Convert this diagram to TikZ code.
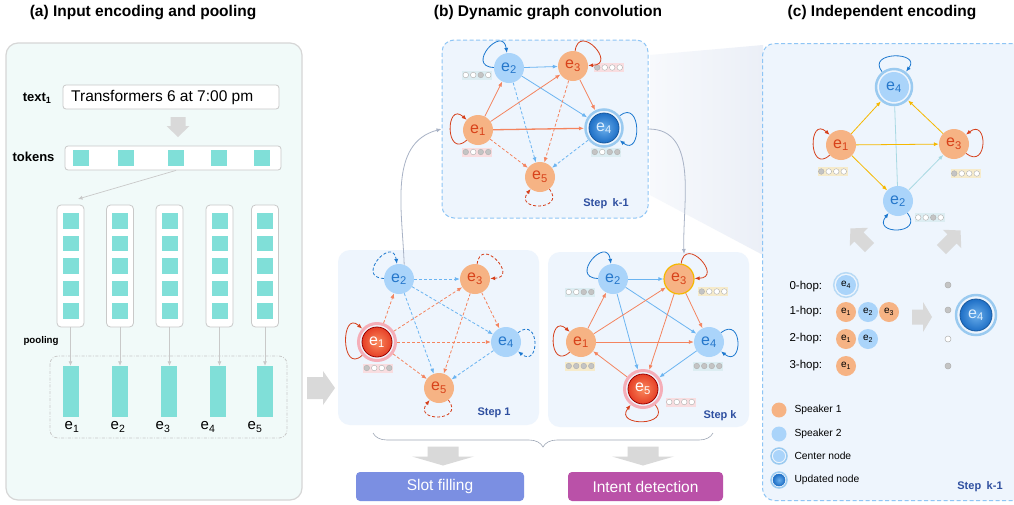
\documentclass[tikz,border=0pt]{standalone}
\usepackage{fontspec}
\setmainfont{Liberation Sans}
\usetikzlibrary{arrows.meta,decorations.pathreplacing,calc}

\definecolor{panelA}{HTML}{F1FAF9}
\definecolor{panelAborder}{HTML}{D6D6D6}
\definecolor{boxgray}{HTML}{C9C9C9}
\definecolor{tealsq}{HTML}{80DFD8}
\definecolor{arrgray}{HTML}{D9D9D9}
\definecolor{stepfill}{HTML}{EEF5FD}
\definecolor{stepdash}{HTML}{8EC5F5}
\definecolor{orfill}{HTML}{F6B384}
\definecolor{ortext}{HTML}{D8421A}
\definecolor{blfill}{HTML}{AAD4FA}
\definecolor{bltext}{HTML}{2577CB}
\definecolor{oredge}{HTML}{F4845F}
\definecolor{bledge}{HTML}{6BB4F1}
\definecolor{redloop}{HTML}{D6401C}
\definecolor{blueloop}{HTML}{1C78CF}
\definecolor{steptext}{HTML}{2E4FA0}
\definecolor{indpink}{HTML}{F9DDE0}
\definecolor{indblue}{HTML}{DCEDF2}
\definecolor{indyellow}{HTML}{F6EBCB}
\definecolor{dotgray}{HTML}{C4C4C4}
\definecolor{dotborder}{HTML}{B0B0B0}
\definecolor{yelledge}{HTML}{F5B800}
\definecolor{cyanedge}{HTML}{A9D9E3}
\definecolor{connc}{HTML}{A9B3C6}
\definecolor{slotc}{HTML}{7B8FE2}
\definecolor{intentc}{HTML}{BA51A8}
\definecolor{ringblue}{HTML}{9ACAF0}
\definecolor{ringpink}{HTML}{F5AEB8}
\definecolor{updblueA}{HTML}{6AAEEB}
\definecolor{updblueB}{HTML}{1E6FC6}
\definecolor{updredA}{HTML}{F98A5E}
\definecolor{updredB}{HTML}{E63F26}
\definecolor{trapL}{HTML}{F7F9FC}
\definecolor{trapR}{HTML}{EBEFF7}

\newcommand\blockarrow[7]{%
  \fill[arrgray, shift={(#1,#2)}, rotate=#3] ({-#4/2},{-#5/2}) -- ({#4/2-#7},{-#5/2}) -- ({#4/2-#7},{-#6/2}) -- ({#4/2},0) -- ({#4/2-#7},{#6/2}) -- ({#4/2-#7},{#5/2}) -- ({-#4/2},{#5/2}) -- cycle;}

\newcommand\indic[7]{%
  \fill[#3] ({#1-15},{#2-4.5}) rectangle ({#1+15},{#2+4.5});
  \foreach \cc [count=\ii] in {#4,#5,#6,#7}
    \filldraw[draw=dotborder, fill=\cc, line width=0.4pt] ({#1-11.25+(\ii-1)*7.5},{#2}) circle (2.8pt);
}

\tikzset{
  gnode/.style={circle, minimum size=30pt, inner sep=0pt, font=\fontsize{16}{16}\selectfont},
  onode/.style={gnode, fill=orfill, text=ortext},
  bnode/.style={gnode, fill=blfill, text=bltext},
  rnode/.style={gnode, draw=red!60!black, line width=0.8pt, inner color=updredA, outer color=updredB, text=white, outer sep=5pt},
  ubnode/.style={gnode, draw=updblueB!80!black, line width=0.8pt, inner color=updblueA, outer color=updblueB, text=blfill!40!white, outer sep=5pt},
  arr/.style={-{Latex[length=5pt,width=4pt]}},
  oe/.style={draw=oredge, line width=0.8pt, arr},
  be/.style={draw=bledge, line width=0.8pt, arr},
  ye/.style={draw=yelledge, line width=0.8pt, arr},
  ce/.style={draw=cyanedge, line width=0.8pt},
  dsh/.style={dash pattern=on 3pt off 2pt},
  rl/.style={draw=redloop, line width=0.8pt, arr},
  bl/.style={draw=blueloop, line width=0.8pt, arr},
  stepbox/.style={fill=stepfill, rounded corners=12pt, inner sep=0pt},
  dashbox/.style={draw=stepdash, dash pattern=on 4pt off 2.5pt, line width=1pt},
  steplabel/.style={font=\bfseries\fontsize{11}{11}\selectfont, text=steptext},
  title/.style={font=\bfseries\fontsize{15.5}{16}\selectfont},
  sq/.style={fill=tealsq, minimum width=16pt, minimum height=15.5pt, inner sep=0pt},
  garr/.style={draw=boxgray, line width=0.7pt, -{Latex[length=4.5pt,width=4pt]}},
  conn/.style={draw=connc, line width=0.8pt, -{Latex[length=5pt,width=4pt]}},
  snode/.style={circle, minimum size=20pt, inner sep=0pt, font=\fontsize{10}{10}\selectfont},
  hoplab/.style={anchor=west, font=\fontsize{11.5}{12}\selectfont},
  leglab/.style={anchor=west, font=\fontsize{10.3}{11}\selectfont},
  lpL/.style={out=222,in=138,distance=29pt},
  lpUL/.style={out=178,in=98,distance=29pt},
  lpUR/.style={out=82,in=2,distance=29pt},
  lpR/.style={out=38,in=-38,distance=28pt},
  lpD/.style={out=-52,in=-128,distance=28pt},
}

\begin{document}
\begin{tikzpicture}[x=1pt,y=1pt]
\clip (0,0) rectangle (1014,-504);
\fill[white] (0,0) rectangle (1014,-504);

% ================= (a) =================
\node[title] (ta) at (143,-13) {(a) Input encoding and pooling};
\draw[panelAborder, fill=panelA, line width=1.2pt, rounded corners=12pt] (6,-43) rectangle (302,-500);

\node[font=\bfseries\fontsize{13}{13}\selectfont, anchor=east] (ltext) at (55,-98) {text\textsubscript{1}};
\node[draw=boxgray, fill=white, rounded corners=3pt, line width=0.8pt, minimum width=216pt, minimum height=24pt, inner sep=0pt] (tbox) at (171,-97) {};
\node[anchor=west, font=\fontsize{15.5}{16}\selectfont, inner sep=0pt] (ttext) at (71,-97.5) {Transformers 6 at 7:00 pm};
\blockarrow{178}{-127}{-90}{20}{15}{23}{11}

\node[font=\bfseries\fontsize{13}{13}\selectfont, anchor=east] (ltok) at (58,-157) {tokens};
\node[draw=boxgray, fill=white, rounded corners=3pt, line width=0.8pt, minimum width=216pt, minimum height=24pt, inner sep=0pt] (tokbox) at (173,-158) {};
\foreach \x [count=\i] in {81,126,176,219,262}
  \node[sq] (tk\i) at (\x,-158) {};

\coordinate (tokend) at (78,-199);
\draw[garr] (tk3.south |- tokbox.south) -- (tokend);

\foreach \x [count=\i] in {70.5,120,169.5,219.5,265} {
  \node[draw=boxgray, fill=white, rounded corners=4pt, line width=0.8pt, minimum width=27pt, minimum height=122pt, inner sep=0pt] (col\i) at (\x,-266) {};
  \foreach \y [count=\j] in {221,243.5,266,288.5,311}
    \node[sq] (c\i r\j) at (\x,-\y) {};
}
\node[font=\bfseries\fontsize{9.7}{10}\selectfont, anchor=west] (lpool) at (20,-341) {pooling};

\draw[boxgray, line width=0.8pt, dash pattern=on 3pt off 1.5pt on 0.8pt off 1.5pt, rounded corners=8pt] (50,-356) rectangle (287,-438);
\foreach \x [count=\i] in {71,120,168.5,218,264.5}
  \node[fill=tealsq, minimum width=16pt, minimum height=51pt, inner sep=0pt] (bar\i) at (\x,-391.5) {};
\foreach \i in {1,...,5}
  \draw[garr] (col\i.south) -- (col\i.south |- bar\i.north);
\foreach \x/\n in {72/1,118/2,163/3,208/4,255/5}
  \node[font=\fontsize{15}{15}\selectfont] (el\n) at (\x,-427) {e\textsubscript{\n}};

\blockarrow{321}{-388}{0}{28}{22}{34}{12}

% ================= (b) =================
\node[title] (tb) at (548,-13) {(b) Dynamic graph convolution};
\shade[left color=trapL, right color=trapR] (650,-55) -- (763,-45) -- (763,-255) -- (650,-195) -- cycle;

\node[stepbox, dashbox, minimum width=206pt, minimum height=178pt] (bk1) at (545,-129) {};
\node[stepbox, minimum width=201pt, minimum height=175pt] (b1) at (438.5,-337.5) {};
\node[stepbox, minimum width=201pt, minimum height=175pt] (bk) at (648.5,-339.5) {};

\node[steplabel] (lk1) at (606,-204) {Step\enspace k-1};
\node[steplabel] (l1) at (494,-413) {Step 1};
\node[steplabel] (lk) at (720,-416) {Step k};

% --- step k-1
\node[onode] (p1) at (478,-130) {e\textsubscript{1}};
\node[bnode] (p2) at (509,-68) {e\textsubscript{2}};
\node[onode] (p3) at (573,-66) {e\textsubscript{3}};
\node[ubnode] (p4) at (604,-128) {e\textsubscript{4}};
\node[onode] (p5) at (540,-177) {e\textsubscript{5}};
\draw[ringblue, line width=2.5pt] (p4.center) circle (18.5pt);
\indic{477}{-75}{indblue}{white}{white}{dotgray}{white}
\indic{608.5}{-67.5}{indpink}{dotgray}{white}{white}{white}
\indic{477}{-152}{indpink}{dotgray}{white}{dotgray}{dotgray}
\indic{606}{-152}{indblue}{dotgray}{white}{dotgray}{dotgray}
\draw[be] (p2) -- (p3);
\draw[be] (p2) -- (p4);
\draw[be,dsh] (p2) -- (p5);
\draw[oe] (p1) -- (p2);
\draw[oe] (p1) -- (p3);
\draw[oe, line width=1.3pt] (p1) -- (p4);
\draw[oe,dsh] (p1) -- (p5);
\draw[oe] (p3) -- (p4);
\draw[oe,dsh] (p3) -- (p5);
\draw[be,dsh] (p4) -- (p5);
\draw[rl] (p1) to[lpL] (p1);
\draw[bl] (p2) to[lpUL] (p2);
\draw[rl] (p3) to[lpUR] (p3);
\draw[bl] (p4) to[lpR] (p4);
\draw[rl,dsh] (p5) to[lpD] (p5);

% --- step 1
\node[rnode] (s1) at (377,-342) {e\textsubscript{1}};
\node[bnode] (s2) at (399,-279) {e\textsubscript{2}};
\node[onode] (s3) at (475,-279) {e\textsubscript{3}};
\node[bnode] (s4) at (506,-342) {e\textsubscript{4}};
\node[onode] (s5) at (439,-388) {e\textsubscript{5}};
\draw[ringpink, line width=3pt] (s1.center) circle (18.5pt);
\indic{378}{-368}{indpink}{dotgray}{white}{white}{dotgray}
\draw[be,dsh] (s2) -- (s3);
\draw[be,dsh] (s2) -- (s4);
\draw[be,dsh] (s2) -- (s5);
\draw[oe,dsh] (s1) -- (s2);
\draw[oe,dsh] (s1) -- (s3);
\draw[oe,dsh] (s1) -- (s4);
\draw[oe,dsh] (s1) -- (s5);
\draw[oe,dsh] (s3) -- (s4);
\draw[oe,dsh] (s3) -- (s5);
\draw[be,dsh] (s4) -- (s5);
\draw[rl] (s1) to[lpL] (s1);
\draw[bl,dsh] (s2) to[lpUL] (s2);
\draw[rl,dsh] (s3) to[lpUR] (s3);
\draw[bl,dsh] (s4) to[lpR] (s4);
\draw[rl,dsh] (s5) to[lpD] (s5);

% --- step k
\node[onode] (k1) at (581,-342) {e\textsubscript{1}};
\node[bnode] (k2) at (613,-279) {e\textsubscript{2}};
\node[onode, draw=yelledge, line width=1.2pt] (k3) at (679,-279) {e\textsubscript{3}};
\node[bnode] (k4) at (709,-342) {e\textsubscript{4}};
\node[rnode] (k5) at (643,-389) {e\textsubscript{5}};
\draw[ringpink, line width=3pt] (k5.center) circle (18.5pt);
\indic{580}{-292}{indblue}{white}{white}{dotgray}{dotgray}
\indic{713}{-291.5}{indyellow}{dotgray}{white}{white}{white}
\indic{580}{-366}{indyellow}{dotgray}{dotgray}{dotgray}{dotgray}
\indic{708}{-366}{indblue}{dotgray}{dotgray}{dotgray}{dotgray}
\indic{680.5}{-402}{indpink}{white}{white}{white}{white}
\draw[be] (k2) -- (k3);
\draw[be] (k2) -- (k4);
\draw[be] (k2) -- (k5);
\draw[oe] (k1) -- (k2);
\draw[oe] (k1) -- (k3);
\draw[oe] (k1) -- (k4);
\draw[oe] (k5) -- (k1);
\draw[oe] (k3) -- (k4);
\draw[oe] (k3) -- (k5);
\draw[be] (k4) -- (k5);
\draw[rl] (k1) to[lpL] (k1);
\draw[bl] (k2) to[lpUL] (k2);
\draw[rl] (k3) to[lpUR] (k3);
\draw[bl] (k4) to[lpR] (k4);
\draw[rl] (k5) to[lpD] (k5);

% --- connectors between steps
\coordinate (kin) at (684,-254);
\draw[conn] (s2.70) to[out=92,in=195] (bk1.west);
\draw[conn] (bk1.east) to[out=0,in=92] (kin);

% --- brace and outputs
\coordinate (brL) at (373,-433);
\coordinate (brR) at (713,-433);
\draw[connc!80!gray, line width=0.6pt, decorate, decoration={brace, mirror, amplitude=14pt, aspect=0.5}] (brL) -- (brR);
\blockarrow{443}{-456}{-90}{19}{31}{62}{9}
\blockarrow{643}{-456}{-90}{19}{31}{62}{9}
\node[fill=slotc, rounded corners=4pt, minimum width=168pt, minimum height=29pt, inner sep=0pt, text=white, font=\fontsize{15.5}{16}\selectfont] (slot) at (440,-486.5) {Slot filling};
\node[fill=intentc, rounded corners=4pt, minimum width=155pt, minimum height=29pt, inner sep=0pt, text=white, font=\fontsize{15.5}{16}\selectfont] (intent) at (645.5,-486.5) {Intent detection};

% ================= (c) =================
\node[title] (tc) at (882,-13) {(c) Independent encoding};
\node[stepbox, dashbox, minimum width=262pt, minimum height=457pt, anchor=north west] (bc) at (762,-43) {};

\node[bnode, outer sep=4.5pt] (c4) at (894,-87) {e\textsubscript{4}};
\node[onode] (c1) at (841,-145) {e\textsubscript{1}};
\node[onode] (c3) at (954,-144) {e\textsubscript{3}};
\node[bnode] (c2) at (898,-201) {e\textsubscript{2}};
\draw[ringblue, line width=2.5pt] (c4.center) circle (18pt);
\indic{832.5}{-171.5}{indyellow}{dotgray}{white}{white}{white}
\indic{965.5}{-173.5}{indyellow}{dotgray}{white}{white}{white}
\indic{929.5}{-217.5}{indblue}{white}{white}{dotgray}{white}
\draw[ce] (c2) -- (c4);
\draw[ce, arr] (c2) -- (c3);
\draw[ye] (c1) -- (c4);
\draw[ye] (c1) -- (c3);
\draw[ye] (c1) -- (c2);
\draw[ye] (c3) -- (c4);
\draw[bl] (c4) to[out=128,in=52,distance=26pt] (c4);
\draw[rl] (c1) to[lpL] (c1);
\draw[rl] (c3) to[out=-38,in=38,distance=28pt] (c3);
\draw[bl] (c2) to[lpD] (c2);

\blockarrow{860}{-238}{135}{27}{13}{26}{12}
\blockarrow{951}{-240}{45}{27}{13}{26}{12}

% hop list
\node[hoplab] (h0l) at (786,-287) {0-hop:};
\node[hoplab] (h1l) at (786,-312) {1-hop:};
\node[hoplab] (h2l) at (786,-339) {2-hop:};
\node[hoplab] (h3l) at (786,-366) {3-hop:};
\node[snode, fill=blfill, text=black] (h0) at (846,-285) {e\textsubscript{4}};
\draw[ringblue!70!white, line width=1.5pt] (h0.center) circle (12.3pt);
\node[snode, fill=orfill, text=black] (h11) at (846,-312) {e\textsubscript{1}};
\node[snode, fill=blfill, text=black] (h12) at (868,-312) {e\textsubscript{2}};
\node[snode, fill=orfill, text=black] (h13) at (889,-312) {e\textsubscript{3}};
\node[snode, fill=orfill, text=black] (h21) at (846,-339) {e\textsubscript{1}};
\node[snode, fill=blfill, text=black] (h22) at (868,-339) {e\textsubscript{2}};
\node[snode, fill=orfill, text=black] (h31) at (846,-366) {e\textsubscript{1}};
\filldraw[draw=dotborder, fill=dotgray, line width=0.5pt] (948,-285) circle (3pt);
\filldraw[draw=dotborder, fill=dotgray, line width=0.5pt] (948,-310) circle (3pt);
\filldraw[draw=dotborder, fill=white, line width=0.5pt] (948,-339) circle (3pt);
\filldraw[draw=dotborder, fill=dotgray, line width=0.5pt] (948,-366) circle (3pt);
\blockarrow{922}{-317}{0}{20}{15}{30}{9}
\node[ubnode, minimum size=32pt] (hbig) at (976,-315) {e\textsubscript{4}};
\draw[ringblue, line width=2.5pt] (hbig.center) circle (20pt);

% legend
\node[circle, fill=orfill, minimum size=15pt, inner sep=0pt] (g1) at (779,-410) {};
\node[leglab] (g1l) at (791,-410) {Speaker 1};
\node[circle, fill=blfill, minimum size=15pt, inner sep=0pt] (g2) at (779,-434) {};
\node[leglab] (g2l) at (791,-434) {Speaker 2};
\node[circle, fill=blfill, minimum size=12pt, inner sep=0pt] (g3) at (779,-456) {};
\draw[ringblue, line width=1.5pt] (g3.center) circle (8pt);
\node[leglab] (g3l) at (791,-456) {Center node};
\node[circle, draw=updblueB, line width=0.5pt, inner color=updblueA, outer color=updblueB, minimum size=12pt, inner sep=0pt] (g4) at (779,-480) {};
\draw[ringblue, line width=1.5pt] (g4.center) circle (8pt);
\node[leglab] (g4l) at (791,-480) {Updated node};
\node[steplabel] (lc) at (980,-487) {Step\enspace k-1};

\end{tikzpicture}
\end{document}
